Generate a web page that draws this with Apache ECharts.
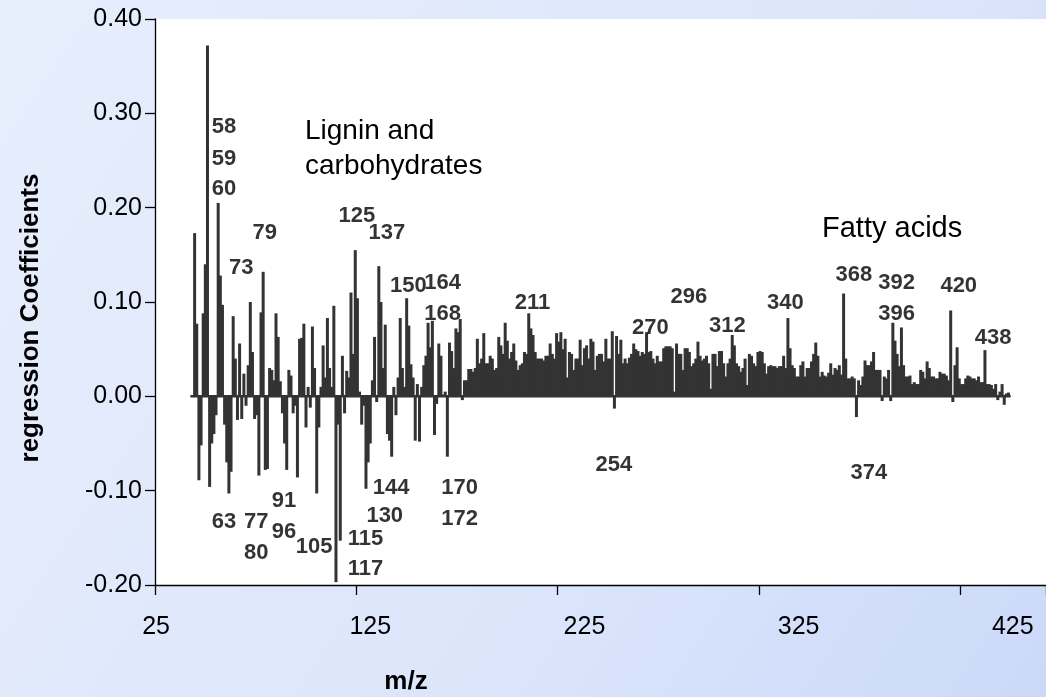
<!DOCTYPE html>
<html>
<head>
<meta charset="utf-8">
<script src="https://cdn.jsdelivr.net/npm/echarts@6/dist/echarts.min.js"></script>
<style>
html, body { margin: 0; padding: 0; }
#chart { width: 1046px; height: 697px; }
</style>
</head>
<body>
<div id="chart"></div>
<script>
// m/z categories along the horizontal axis
const mzFirst = 25;
const mzLast = 440;
const mzCategories = [];
for (let m = mzFirst; m <= mzLast; m++) mzCategories.push(String(m));

// position (category index) of the first coefficient
const coefficientStartIndex = 18;

// regression coefficients, one per m/z channel
const coefficients = [
  0.173, 0.077, -0.089, -0.052, 0.088, 0.14, 0.372, -0.096, -0.05, -0.04,
  -0.02, 0.205, 0.128, 0.097, -0.03, -0.07, -0.103, -0.08, 0.085, 0.04,
  -0.025, 0.056, -0.024, 0.024, -0.01, 0.033, 0.1, 0.047, -0.024, -0.02,
  -0.084, 0.089, 0.132, -0.078, -0.077, 0.03, 0.028, 0.017, 0.088, 0.063,
  0.016, -0.018, -0.05, -0.078, 0.028, 0.022, -0.018, -0.01, -0.086, 0.061,
  0.062, 0.077, -0.033, 0.01, -0.012, 0.074, 0.03, -0.103, -0.033, 0.01,
  0.054, 0.02, 0.083, 0.03, 0.01, 0.096, -0.197, -0.03, -0.153, 0.043,
  -0.018, 0.027, 0.02, 0.11, 0.045, 0.155, 0.104, 0.005, -0.03, -0.01,
  -0.098, -0.07, -0.05, 0.017, 0.063, -0.006, 0.138, 0.1, 0.03, 0.076,
  -0.04, -0.047, -0.064, 0.01, -0.02, 0.02, 0.083, 0.03, 0.01, 0.104,
  0.075, 0.034, 0.02, -0.047, 0.013, -0.048, 0.01, 0.033, 0.043, 0.078,
  0.052, 0.08, -0.041, -0.008, 0.056, 0.043, 0.002, 0.005, -0.064, 0.057,
  0.048, 0.03, 0.072, 0.068, 0.082, -0.004, 0.017, 0.017, 0.029, 0.029,
  0.026, 0.03, 0.061, 0.035, 0.04, 0.067, 0.035, 0.035, 0.043, 0.04,
  0.028, 0.03, 0.063, 0.054, 0.045, 0.078, 0.059, 0.04, 0.047, 0.056,
  0.038, 0.028, 0.033, 0.035, 0.047, 0.045, 0.088, 0.072, 0.065, 0.047,
  0.04, 0.04, 0.04, 0.038, 0.043, 0.043, 0.056, 0.045, 0.04, 0.067,
  0.058, 0.068, 0.05, 0.061, 0.02, 0.047, 0.045, 0.028, 0.04, 0.04,
  0.06, 0.033, 0.051, 0.054, 0.04, 0.061, 0.058, 0.028, 0.043, 0.045,
  0.045, 0.037, 0.061, 0.04, 0.04, 0.069, -0.013, 0.064, 0.045, 0.06,
  0.035, 0.04, 0.035, 0.041, 0.045, 0.056, 0.05, 0.048, 0.043, 0.047,
  0.045, 0.068, 0.047, 0.048, 0.04, 0.035, 0.043, 0.037, 0.037, 0.051,
  0.053, 0.053, 0.053, 0.051, 0.005, 0.056, 0.045, 0.045, 0.028, 0.051,
  0.051, 0.047, 0.032, 0.035, 0.04, 0.058, 0.043, 0.038, 0.04, 0.043,
  0.035, 0.008, 0.045, 0.045, 0.032, 0.048, 0.048, 0.035, 0.021, 0.035,
  0.04, 0.065, 0.054, 0.035, 0.032, 0.026, 0.03, 0.04, 0.012, 0.045,
  0.043, 0.035, 0.032, 0.047, 0.048, 0.047, 0.035, 0.024, 0.032, 0.033,
  0.032, 0.032, 0.03, 0.032, 0.032, 0.043, 0.03, 0.083, 0.051, 0.033,
  0.03, 0.021, 0.021, 0.033, 0.037, 0.021, 0.03, 0.03, 0.037, 0.045,
  0.057, 0.043, 0.021, 0.026, 0.022, 0.021, 0.025, 0.035, 0.023, 0.03,
  0.028, 0.033, 0.023, 0.109, 0.04, 0.019, 0.019, 0.021, 0.019, -0.022,
  0.017, 0.012, 0.021, 0.038, 0.033, 0.033, 0.037, 0.047, 0.028, 0.028,
  0.028, -0.005, 0.021, 0.019, 0.028, -0.005, 0.078, 0.059, 0.045, 0.032,
  0.073, 0.033, 0.021, 0.021, 0.022, 0.013, 0.015, 0.013, 0.013, 0.028,
  0.026, 0.019, 0.037, 0.03, 0.021, 0.021, 0.019, 0.019, 0.026, 0.024,
  0.024, 0.022, 0.017, 0.091, -0.006, 0.033, 0.052, 0.019, 0.013, 0.013,
  0.019, 0.022, 0.021, 0.019, 0.019, 0.017, 0.021, 0.015, 0.015, 0.049,
  0.013, 0.013, 0.012, 0.008, 0.013, -0.004, 0.005, 0.013, -0.009, 0.003, 0.004
];

// peak annotations: text, category index, coefficient level
const annotationLabels = ['58', '59', '60', '79', '73', '125', '137', '150', '164', '168',
  '211', '296', '270', '312', '340', '368', '392', '420', '396', '438',
  '254', '374', '144', '170', '91', '130', '172', '63', '77', '96',
  '115', '105', '80', '117'];
const annotationAt = [32, 32, 32, 51, 40, 94, 108, 118, 134, 134,
  176, 249, 231, 267, 294, 326, 346, 375, 346, 391,
  214, 333, 110, 142, 60, 107, 142, 32, 47, 60,
  98, 74, 47, 98];
const annotationLevel = [0.285, 0.251, 0.219, 0.173, 0.136, 0.191, 0.173, 0.117, 0.12, 0.087,
  0.099, 0.105, 0.072, 0.074, 0.099, 0.128, 0.12, 0.116, 0.087, 0.061,
  -0.073, -0.082, -0.098, -0.098, -0.111, -0.127, -0.131, -0.134, -0.134, -0.144,
  -0.152, -0.16, -0.167, -0.184];

// y-axis range
const yMin = -0.2, yMax = 0.4, yStep = 0.1;

const FONT = "'Liberation Sans', Arial, sans-serif";
const BAR_COLOR = '#333333';
const STICK_WIDTH = 3.0;

const stickData = coefficients.map((v, k) => [k + coefficientStartIndex, v]);
const lastIndex = coefficientStartIndex + coefficients.length - 1;

// one vertical stick per channel, from zero to its coefficient
function renderStick(params, api) {
  const idx = api.value(0);
  const base = api.coord([idx, 0]);
  const tip = api.coord([idx, api.value(1)]);
  return {
    type: 'rect',
    shape: {
      x: base[0] - STICK_WIDTH / 2,
      y: Math.min(base[1], tip[1]),
      width: STICK_WIDTH,
      height: Math.abs(tip[1] - base[1])
    },
    style: { fill: BAR_COLOR }
  };
}

const chart = echarts.init(document.getElementById('chart'), null, { renderer: 'canvas' });

chart.setOption({
  animation: false,
  backgroundColor: {
    type: 'linear', x: 0, y: 0, x2: 1, y2: 1,
    colorStops: [
      { offset: 0, color: '#e7eefc' },
      { offset: 0.6, color: '#dce6fb' },
      { offset: 1, color: '#cbd9f9' }
    ]
  },
  grid: {
    left: 155, right: 0, top: 19, bottom: 112,
    show: true, backgroundColor: '#ffffff', borderWidth: 0
  },
  xAxis: {
    type: 'category',
    data: mzCategories,
    boundaryGap: true,
    axisLine: { onZero: false, lineStyle: { color: '#000', width: 1.3 } },
    axisTick: { show: true, interval: 93, alignWithLabel: false, length: 10, inside: false,
      lineStyle: { color: '#000', width: 1.3 } },
    axisLabel: { interval: 99, fontFamily: FONT, fontSize: 25, color: '#000', margin: 30 },
    splitLine: { show: false }
  },
  yAxis: {
    type: 'value',
    min: yMin, max: yMax, interval: yStep,
    axisLine: { show: true, lineStyle: { color: '#000', width: 1.3 } },
    axisTick: { show: true, length: 10, lineStyle: { color: '#000', width: 1.3 } },
    axisLabel: { fontFamily: FONT, fontSize: 25, color: '#000', margin: 13,
      formatter: v => v.toFixed(2) },
    splitLine: { show: false }
  },
  series: [
    {
      // zero baseline under the spectrum
      type: 'line',
      data: [[coefficientStartIndex - 2, 0], [lastIndex + 1, 0]],
      symbol: 'none',
      lineStyle: { color: BAR_COLOR, width: 2.5 },
      z: 1,
      silent: true
    },
    {
      type: 'custom',
      data: stickData,
      encode: { x: 0, y: 1 },
      renderItem: renderStick,
      z: 2
    },
    {
      type: 'scatter',
      data: annotationAt.map((c, k) => [c, annotationLevel[k]]),
      symbolSize: 1,
      itemStyle: { color: 'rgba(0,0,0,0)' },
      z: 5,
      label: {
        show: true,
        position: [0, 0],
        align: 'center',
        verticalAlign: 'middle',
        fontFamily: FONT,
        fontSize: 22,
        fontWeight: 'bold',
        color: '#000',
        formatter: p => annotationLabels[p.dataIndex]
      }
    }
  ],
  graphic: [
    {
      type: 'text', left: 305, top: 114, z: 10,
      style: { text: 'Lignin and\ncarbohydrates', font: '28px ' + FONT, fill: '#000', lineHeight: 35 }
    },
    {
      type: 'text', left: 822, top: 214, z: 10,
      style: { text: 'Fatty acids', font: '29px ' + FONT, fill: '#000' }
    },
    {
      type: 'text', x: 31, y: 318, rotation: Math.PI / 2, z: 10,
      style: { text: 'regression Coefficients', font: 'bold 26px ' + FONT, fill: '#000',
        textAlign: 'center', textVerticalAlign: 'middle' }
    },
    {
      type: 'text', x: 406, y: 682, z: 10,
      style: { text: 'm/z', font: 'bold 26px ' + FONT, fill: '#000',
        textAlign: 'center', textVerticalAlign: 'middle' }
    }
  ]
});
</script>
</body>
</html>
